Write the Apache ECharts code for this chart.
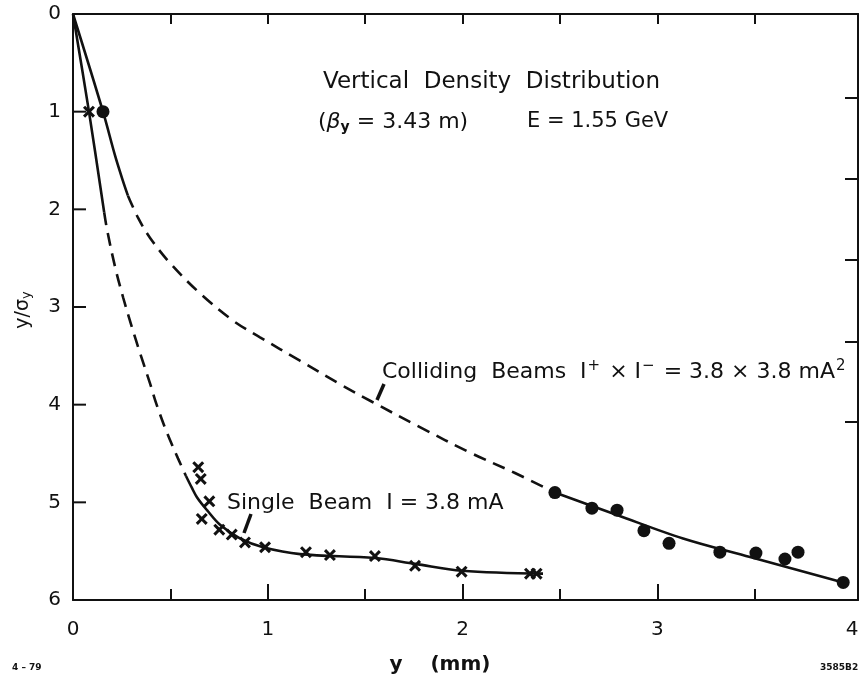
<!DOCTYPE html>
<html><head><meta charset="utf-8">
<script src="https://cdn.jsdelivr.net/npm/echarts@6/dist/echarts.min.js"></script>
<style>html,body{margin:0;padding:0;background:#fff}#chart{width:866px;height:677px}</style>
</head><body><div id="chart"></div>
<script>
// Axis ticks
const xLabelValues = [0, 1, 2, 3, 4];
const xHalfTicks = [0.5, 1.5, 2.5, 3.5];
const xWholeTicks = [1, 2, 3];
const xTopTicks = [0.5, 1, 1.5, 2, 2.5, 3, 3.5];
const yLabelValues = [0, 1, 2, 3, 4, 5, 6];
const yLeftTicks = [1, 2, 3, 4, 5];
const yRightTicks = [0.86, 1.69, 2.52, 3.36, 4.18];

// Colliding beams measurements: y (mm) and y/sigma_y
const collidingX = [0.154, 2.474, 2.664, 2.793, 2.931, 3.060, 3.321, 3.506, 3.655, 3.722, 3.954];
const collidingY = [1.0, 4.90, 5.06, 5.08, 5.29, 5.42, 5.51, 5.52, 5.58, 5.51, 5.82];

// Single beam measurements
const singleX = [0.082, 0.643, 0.656, 0.700, 0.661, 0.751, 0.815, 0.883, 0.986, 1.196, 1.319, 1.550, 1.756, 1.995, 2.346, 2.380];
const singleY = [1.0, 4.64, 4.76, 4.99, 5.17, 5.28, 5.33, 5.41, 5.46, 5.51, 5.54, 5.55, 5.65, 5.71, 5.73, 5.73];

// Fitted curves, split into the drawn (solid) and extrapolated (dashed) parts
const collidingFitCore = [[0, 0], [0.154, 1.0], [0.216, 1.45], [0.255, 1.70], [0.282, 1.86]];
const collidingFitGap = [[0.282, 1.86], [0.335, 2.09], [0.395, 2.29], [0.498, 2.55], [0.652, 2.86], [0.822, 3.14], [0.96, 3.31], [1.165, 3.55], [1.371, 3.79], [1.535, 3.97], [1.781, 4.23], [2.038, 4.49], [2.269, 4.70], [2.474, 4.90]];
const collidingFitTail = [[2.474, 4.90], [2.793, 5.13], [3.132, 5.37], [3.476, 5.56], [3.954, 5.82]];

const singleFitCore = [[0, 0], [0.082, 1.0], [0.16, 2.03]];
const singleFitGap = [[0.16, 2.03], [0.175, 2.21], [0.216, 2.59], [0.257, 2.90], [0.303, 3.21], [0.344, 3.47], [0.395, 3.78], [0.431, 4.01], [0.483, 4.29], [0.539, 4.55], [0.58, 4.73]];
const singleFitTail = [[0.58, 4.73], [0.61, 4.85], [0.637, 4.95], [0.688, 5.08], [0.755, 5.23], [0.857, 5.37], [0.976, 5.46], [1.166, 5.53], [1.55, 5.57], [1.756, 5.63], [1.997, 5.70], [2.413, 5.73]];

const INK = '#111';
const FONT = 'DejaVu Sans';
const crossPath = 'path://M0,1.8L1.8,0L5,3.2L8.2,0L10,1.8L6.8,5L10,8.2L8.2,10L5,6.8L1.8,10L0,8.2L3.2,5Z';

const GRID_LEFT = 73, GRID_WIDTH = 785, LEFT_TICK_LEN = 13;
const X_MAX = 4.03;

const pairs = (xs, ys) => xs.map((x, i) => [x, ys[i]]);

const chart = echarts.init(document.getElementById('chart'), null, { renderer: 'canvas' });

const xCommon = { type: 'value', min: 0, max: X_MAX, splitLine: { show: false } };
const yCommon = { type: 'value', min: 0, max: 6, inverse: true, splitLine: { show: false } };
const axisInk = { color: INK, width: 2 };

function curve(data, dashed) {
  return {
    type: 'line', data, smooth: 0.35, symbol: 'none', silent: true,
    lineStyle: { color: INK, width: 2.6, type: dashed ? [13, 8] : 'solid' }, z: 2
  };
}

// Short inward strokes on the left frame, one per whole unit of y/sigma_y
const tickSpan = LEFT_TICK_LEN * X_MAX / GRID_WIDTH;
const leftTickSeries = yLeftTicks.map(v => ({
  type: 'line', data: [[0, v], [tickSpan, v]], symbol: 'none', silent: true,
  lineStyle: { color: INK, width: 2 }, z: 10
}));

// Captions, annotation pointers and axis titles
const captions = [
  { type: 'text', x: 323, y: 82, style: { text: 'Vertical  Density  Distribution', font: '23px "DejaVu Sans"', fill: INK, verticalAlign: 'middle' } },
  { type: 'text', x: 318, y: 122, style: {
      text: '({b|β}{s|y} = 3.43 m)', font: '22px "DejaVu Sans"', fill: INK, verticalAlign: 'middle',
      rich: { b: { font: 'italic 22px "DejaVu Sans"', fill: INK }, s: { font: 'bold 14px "DejaVu Sans"', fill: INK, verticalAlign: 'bottom', padding: [10, 0, 0, 0] } }
    } },
  { type: 'text', x: 527, y: 122, style: { text: 'E = 1.55 GeV', font: '21px "DejaVu Sans"', fill: INK, verticalAlign: 'middle' } },
  { type: 'text', x: 382, y: 372, style: {
      text: 'Colliding  Beams  I{p|+} × I{p|−} = 3.8 × 3.8 mA{p|2}', font: '22px "DejaVu Sans"', fill: INK, verticalAlign: 'middle',
      rich: { p: { font: '15px "DejaVu Sans"', fill: INK, verticalAlign: 'top', padding: [0, 2, 12, 1] } }
    } },
  { type: 'text', x: 227, y: 503, style: { text: 'Single  Beam  I = 3.8 mA', font: '22px "DejaVu Sans"', fill: INK, verticalAlign: 'middle' } },
  { type: 'line', shape: { x1: 384, y1: 384, x2: 377, y2: 400 }, style: { stroke: INK, lineWidth: 3.5 } },
  { type: 'line', shape: { x1: 251, y1: 514, x2: 244, y2: 533 }, style: { stroke: INK, lineWidth: 3.5 } },
  { type: 'text', x: 440, y: 665, style: { text: 'y    (mm)', font: 'bold 20px "DejaVu Sans"', fill: INK, align: 'center', verticalAlign: 'middle' } },
  { type: 'text', x: 23, y: 310, rotation: Math.PI / 2, style: {
      text: 'y/σ{s|y}', font: '19px "DejaVu Sans"', fill: INK, align: 'center', verticalAlign: 'middle',
      rich: { s: { font: '13px "DejaVu Sans"', fill: INK, padding: [8, 0, 0, 0] } }
    } },
  { type: 'text', x: 12, y: 668, style: { text: '4 – 79', font: 'bold 9px "DejaVu Sans"', fill: INK, verticalAlign: 'middle' } },
  { type: 'text', x: 820, y: 668, style: { text: '3585B2', font: 'bold 9px "DejaVu Sans"', fill: INK, verticalAlign: 'middle' } }
];

chart.setOption({
  animation: false,
  backgroundColor: '#fff',
  grid: { left: GRID_LEFT, top: 14, width: GRID_WIDTH, height: 586 },
  xAxis: [
    Object.assign({}, xCommon, {
      position: 'bottom',
      axisLine: { show: true, onZero: false, lineStyle: axisInk },
      axisTick: { show: true, inside: true, length: 11, customValues: xHalfTicks, lineStyle: axisInk },
      axisLabel: { customValues: xLabelValues, color: INK, fontFamily: FONT, fontSize: 20, margin: 20 }
    }),
    Object.assign({}, xCommon, {
      position: 'bottom',
      axisLine: { show: false, onZero: false },
      axisTick: { show: true, inside: true, length: 16, customValues: xWholeTicks, lineStyle: axisInk },
      axisLabel: { show: false }
    }),
    Object.assign({}, xCommon, {
      position: 'top',
      axisLine: { show: true, onZero: false, lineStyle: axisInk },
      axisTick: { show: true, inside: true, length: 10, customValues: xTopTicks, lineStyle: axisInk },
      axisLabel: { show: false }
    })
  ],
  yAxis: [
    Object.assign({}, yCommon, {
      position: 'left',
      axisLine: { show: true, onZero: false, lineStyle: axisInk },
      axisTick: { show: false },
      axisLabel: { customValues: yLabelValues, color: INK, fontFamily: FONT, fontSize: 20, margin: 12 }
    }),
    Object.assign({}, yCommon, {
      position: 'right',
      axisLine: { show: true, onZero: false, lineStyle: axisInk },
      axisTick: { show: true, inside: true, length: 13, customValues: yRightTicks, lineStyle: axisInk },
      axisLabel: { show: false }
    })
  ],
  series: [
    curve(collidingFitCore, false),
    curve(collidingFitGap, true),
    curve(collidingFitTail, false),
    curve(singleFitCore, false),
    curve(singleFitGap, true),
    curve(singleFitTail, false),
    {
      type: 'scatter', data: pairs(collidingX, collidingY), symbol: 'circle', symbolSize: 13,
      itemStyle: { color: INK, opacity: 1 }, z: 3
    },
    {
      type: 'scatter', data: pairs(singleX, singleY), symbol: crossPath, symbolSize: 12,
      itemStyle: { color: INK, opacity: 1 }, z: 3
    }
  ].concat(leftTickSeries),
  graphic: captions
});
</script>
</body></html>
